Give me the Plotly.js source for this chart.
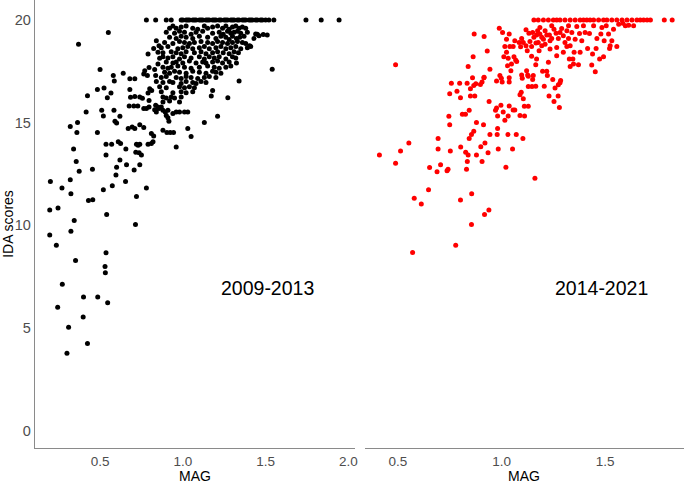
<!DOCTYPE html>
<html>
<head>
<meta charset="utf-8">
<script src="https://cdn.plot.ly/plotly-3.0.1.min.js"></script>
<style>
  html, body { margin: 0; padding: 0; background: #fff; }
  #plot { width: 686px; height: 484px; }
</style>
</head>
<body>
<div id="plot"></div>
<script>
// 2009-2013 panel (black)
var magEarly = [
  0.55,0.37,0.20,0.196,0.246,0.27,0.32,0.324,0.196,0.236,
  0.324,0.344,0.54,0.714,0.72,0.78,0.52,0.574,0.654,0.43,
  0.456,0.454,0.374,0.356,0.34,0.32,0.364,0.36,0.416,0.424,
  0.484,0.50,0.524,0.544,0.566,0.51,0.52,0.584,0.59,0.60,
  0.62,0.58,0.586,0.64,0.484,0.536,0.57,0.536,0.61,0.624,
  0.656,0.62,0.60,0.596,0.66,0.67,0.694,0.71,0.68,0.71,
  0.68,0.684,0.676,0.704,0.728,0.71,0.74,0.74,0.764,0.72,
  0.73,0.74,0.736,0.75,0.74,0.716,0.706,0.79,0.81,0.82,
  0.81,0.824,0.764,0.78,0.796,0.756,0.80,0.812,0.79,0.796,
  0.77,0.764,0.786,0.796,0.79,0.824,0.84,0.83,0.836,0.84,
  0.85,0.86,0.85,0.856,0.836,0.85,0.87,0.83,0.84,0.856,
  0.88,0.894,0.91,0.88,0.904,0.924,0.944,0.94,0.96,0.98,
  1.01,1.03,0.90,0.91,0.916,0.96,1.03,1.05,1.13,1.21,
  1.172,1.18,1.272,1.34,1.54,1.51,1.486,1.46,1.44,1.404,
  0.536,0.352,0.53,0.532,0.272,0.40,0.486,0.546,0.244,0.398,
  0.31,0.424,0.30
];
var idaEarly = [
  19.39,18.81,12.13,10.74,10.84,11.81,12.21,11.53,9.52,9.03,
  9.71,10.23,10.52,10.03,11.40,11.81,11.73,11.92,12.13,11.21,
  11.24,12.73,12.63,13.10,13.71,14.81,15.0,14.52,15.52,16.31,
  16.61,17.58,16.69,16.21,16.44,15.60,15.32,15.60,15.06,14.98,
  15.31,17.29,17.02,17.40,14.52,13.94,13.94,13.42,14.06,13.98,
  13.71,13.18,12.82,12.45,12.94,14.71,14.79,14.71,17.13,17.13,
  16.61,16.23,15.81,15.81,15.81,16.27,16.24,14.90,14.76,13.94,
  13.90,13.94,13.53,13.42,12.94,13.55,12.69,13.94,13.98,14.06,
  14.47,14.35,15.68,15.68,15.76,16.19,16.65,16.56,16.44,16.08,
  17.53,17.37,17.29,17.68,18.34,18.61,18.98,17.58,17.29,17.0,
  17.85,18.13,18.42,18.74,15.84,15.76,15.76,15.63,15.52,15.68,
  15.60,15.52,15.60,14.63,14.52,14.52,14.52,15.44,15.52,15.52,
  15.52,15.52,15.35,15.23,15.06,13.81,14.71,14.32,15.0,15.31,
  16.29,16.56,16.21,17.02,17.60,19.27,19.29,19.23,19.32,18.74,
  8.66,8.28,7.99,7.69,7.12,6.51,6.51,6.23,6.0,5.53,
  5.03,4.24,3.76
];

// dense cluster of the 2009-2013 panel
var magEarlyCluster = [
  0.92,0.94,0.96,0.99,1.02,1.06,1.09,1.13,1.15,1.18,1.21,1.24,1.26,1.28,1.30,1.32,1.34,1.36,1.38,
  0.90,0.95,0.98,1.01,1.05,1.08,1.12,1.18,1.22,1.244,1.27,1.29,1.31,1.33,1.35,1.39,1.45,
  0.92,0.96,0.99,1.02,1.06,1.10,1.15,1.20,1.23,1.26,1.28,1.30,1.324,1.344,1.37,1.43,
  0.89,0.94,0.98,1.01,1.04,1.07,1.11,1.15,1.18,1.21,1.24,1.27,1.30,1.33,1.36,1.38,
  0.87,0.91,0.97,1.00,1.03,1.06,1.10,1.13,1.16,1.20,1.23,1.26,1.29,1.32,1.35,1.39,1.41,
  0.88,0.93,0.96,0.99,1.02,1.07,1.11,1.14,1.18,1.21,1.244,1.28,1.31,1.336,
  0.88,0.91,0.94,0.98,1.01,1.05,1.10,1.13,1.16,1.19,1.22,1.26,1.30,1.32,
  0.90,0.94,0.96,1.00,1.04,1.08,1.12,1.14,1.18,1.21,1.24,1.28,1.324,
  0.88,0.91,0.93,0.97,1.01,1.05,1.10,1.15,1.19,1.22,1.26,1.29,
  0.89,0.92,0.95,0.98,1.02,1.06,1.10,1.14,1.18,1.20,1.23,
  0.87,0.90,0.96,0.99,1.02,1.05,1.09,1.13,1.16,1.20,
  0.88,0.92,0.94,0.99,1.02,1.06,1.08,1.11,1.14,
  0.86,0.90,0.98,1.01,1.04,1.07,
  0.87,0.94,0.99,1.02,1.06,
  0.88,0.90,0.93,0.95,0.99,
  0.88,0.92,0.98
];
var idaEarlyCluster = [
  19.6,19.7,19.6,19.65,19.7,19.6,19.55,19.7,19.6,19.65,19.7,19.6,19.7,19.55,19.65,19.7,19.6,19.65,19.6,
  19.4,19.35,19.45,19.4,19.3,19.4,19.45,19.35,19.4,19.3,19.45,19.35,19.4,19.45,19.35,19.4,19.3,
  19.15,19.1,19.2,19.15,19.1,19.2,19.15,19.1,19.2,19.15,19.05,19.2,19.1,19.15,19.2,19.1,
  18.9,18.85,18.95,18.9,18.85,18.9,18.95,18.9,18.85,18.95,18.9,18.85,18.9,18.95,18.9,18.85,
  18.65,18.7,18.6,18.65,18.7,18.6,18.65,18.7,18.6,18.65,18.7,18.6,18.65,18.7,18.6,18.65,18.7,
  18.4,18.45,18.4,18.35,18.45,18.4,18.45,18.35,18.4,18.45,18.4,18.35,18.45,18.4,
  18.2,18.15,18.2,18.1,18.2,18.15,18.2,18.1,18.2,18.15,18.2,18.1,18.2,18.15,
  17.95,17.9,17.95,17.9,18.0,17.9,17.95,17.9,17.95,18.0,17.9,17.95,17.9,
  17.7,17.65,17.7,17.75,17.7,17.65,17.7,17.75,17.7,17.65,17.7,17.75,
  17.45,17.4,17.5,17.45,17.4,17.5,17.45,17.4,17.5,17.45,17.4,
  17.2,17.25,17.2,17.15,17.25,17.2,17.15,17.2,17.25,17.2,
  16.95,17.0,16.95,16.9,17.0,16.95,16.9,17.0,16.95,
  16.75,16.7,16.75,16.7,16.75,16.7,
  16.5,16.45,16.5,16.45,16.5,
  16.25,16.2,16.25,16.2,16.25,
  16.0,16.05,16.0
];

// points on the ceiling score of 20
var magEarlyTop = [
  0.78,0.836,0.90,0.93,0.99,1.00,1.02,1.03,1.04,1.06,
  1.07,1.08,1.10,1.11,1.12,1.14,1.15,1.16,1.18,1.19,
  1.20,1.22,1.23,1.25,1.26,1.27,1.29,1.30,1.31,1.33,
  1.34,1.36,1.37,1.38,1.40,1.41,1.42,1.44,1.45,1.47,
  1.48,1.50,1.52,1.55,1.744,1.836,1.944
];
var idaEarlyTop = [
  20,20,20,20,20,20,20,20,20,20,
  20,20,20,20,20,20,20,20,20,20,
  20,20,20,20,20,20,20,20,20,20,
  20,20,20,20,20,20,20,20,20,20,
  20,20,20,20,20,20,20
];

// 2014-2021 panel (red)
var magLate = [
  0.411,0.489,0.489,0.513,0.553,0.579,0.613,0.648,0.653,0.689,
  0.706,0.737,0.742,0.694,0.694,0.746,0.75,0.75,0.753,0.758,
  0.785,0.798,0.802,0.802,0.803,0.811,0.826,0.827,0.831,0.835,
  0.839,0.839,0.834,0.844,0.844,0.85,0.85,0.855,0.856,0.855,
  0.86,0.863,0.866,0.868,0.866,0.871,0.876,0.879,0.879,0.898,
  0.906,0.915,0.916,0.90,0.906,0.913,0.916,0.918,0.92,0.931,
  0.935,0.939,0.94,0.944,0.944,0.971,0.976,0.979,0.981,0.981,
  0.984,0.976,0.989,0.992,0.999,1.003,0.997,1.005,1.008,1.011,
  1.016,1.016,1.021,1.024,1.024,1.032,1.029,1.031,1.032,1.037,
  1.037,1.037,1.037,1.04,1.056,1.045,1.048,1.053,1.056,1.064,
  1.064,1.06,1.068,1.071,1.073,1.085,1.089,1.089,1.092,1.095,
  1.097,1.10,1.103,1.105,1.11,1.111,1.118,1.121,1.124,1.126,
  1.129,1.129,1.129,1.132,1.137,1.145,1.147,1.15,1.153,1.165,
  1.161,1.165,1.166,1.169,1.174,1.177,1.181,1.185,1.194,1.198,
  1.21,1.206,1.21,1.218,1.221,1.226,1.229,1.231,1.234,1.242,
  1.247,1.253,1.258,1.263,1.266,1.273,1.274,1.279,1.282,1.285,
  1.29,1.298,1.306,1.315,1.323,1.327,1.331,1.339,1.344,1.347,
  1.35,1.355,1.363,1.371,1.376,1.379,1.387,1.395,1.403,1.415,
  1.424,1.435,1.439,1.444,1.452,1.456,1.46,1.473,1.479,1.484,
  1.492,1.495,1.505,1.516,1.521,1.524,1.532,1.540,1.556,1.565,
  1.585,1.597,1.613,1.637,0.779,0.571,
  1.15,1.156,1.194,1.218,1.242,1.253,1.274,1.282,1.315,1.323,
  1.331,1.185,1.202,1.145,1.118,1.105,1.097,1.234,1.298,1.266,1.169
];
var idaLate = [
  13.42,17.82,13.02,13.61,14.0,11.31,11.03,11.73,12.81,12.61,
  12.94,12.65,12.73,14.23,13.71,15.31,14.90,16.40,13.61,16.92,
  16.52,16.92,16.21,11.23,13.81,15.40,15.40,13.55,12.73,13.10,
  13.42,17.73,16.92,14.23,15.60,16.29,16.65,14.42,11.53,10.03,
  17.18,18.21,16.81,19.31,14.58,16.29,16.89,15.0,13.42,16.86,
  16.98,17.18,17.21,13.82,13.10,14.90,19.19,10.52,14.0,18.48,
  13.53,10.74,16.03,14.42,17.60,15.60,15.71,14.42,14.71,15.32,
  13.71,17.02,19.60,17.29,17.16,16.98,15.84,19.39,15.52,18.21,
  18.71,15.11,12.82,19.06,18.42,18.13,17.77,14.42,15.32,15.81,
  16.98,17.18,19.31,18.71,18.71,17.53,17.85,13.71,15.61,15.61,
  18.98,18.21,18.05,14.42,17.98,18.90,15.35,16.35,18.69,16.48,
  17.32,17.16,14.23,16.16,15.79,15.32,19.52,17.53,18.50,17.32,
  17.26,15.79,16.76,19.35,18.95,18.23,16.76,17.1,17.29,17.82,
  12.29,16.77,18.87,19.26,19.47,18.90,18.5,19.63,19.15,17.50,
  19.47,16.77,18.82,17.5,17.29,17.94,16.29,19.26,18.98,19.71,
  17.10,16.03,16.68,19.35,18.66,16.29,16.84,15.73,16.94,17.05,
  19.58,19.23,18.9,18.71,19.71,18.1,17.73,19.39,18.1,17.85,
  18.42,19.06,19.68,17.82,19.34,18.42,18.98,19.71,19.39,18.61,
  19.34,17.81,18.34,19.71,17.48,18.61,19.10,18.1,19.31,19.63,
  18.21,18.98,19.71,19.31,18.61,18.74,18.98,19.55,18.71,19.79,
  19.84,19.71,19.74,19.71,9.03,8.67,
  19.39,19.15,18.74,19.26,19.10,19.55,19.10,19.39,19.47,19.10,
  18.74,19.31,19.06,18.71,18.74,18.90,19.10,18.58,18.42,18.26,18.10
];
var magLateTop = [
  1.156,1.177,1.202,1.226,1.25,1.266,1.282,1.306,1.331,1.355,
  1.379,1.395,1.411,1.427,1.444,1.468,1.492,1.508,1.532,1.556,
  1.581,1.605,1.629,1.653,1.669,1.685,1.702,1.718,1.785,1.823
];
var idaLateTop = [
  20,20,20,20,20,20,20,20,20,20,
  20,20,20,20,20,20,20,20,20,20,
  20,20,20,20,20,20,20,20,20,20
];

var periods = ["2009-2013", "2014-2021"];
var yTicks = [0, 5, 10, 15, 20];

document.addEventListener("DOMContentLoaded", function() {
  var plotDiv = document.getElementById("plot");
  var axisGrey = "#8a8a8a";
  var tickGrey = "#4d4d4d";

  var early = {
    x: magEarly.concat(magEarlyCluster, magEarlyTop),
    y: idaEarly.concat(idaEarlyCluster, idaEarlyTop),
    xaxis: "x", yaxis: "y",
    type: "scatter", mode: "markers",
    marker: { color: "#000000", size: 5 },
    hoverinfo: "skip"
  };
  var late = {
    x: magLate.concat(magLateTop),
    y: idaLate.concat(idaLateTop),
    xaxis: "x2", yaxis: "y",
    type: "scatter", mode: "markers",
    marker: { color: "#ff0000", size: 5 },
    hoverinfo: "skip"
  };

  function xAxis(domain, range, vals) {
    return {
      domain: domain, range: range, anchor: "y",
      tickvals: vals,
      ticktext: vals.map(function(v) { return v.toFixed(1); }),
      showline: true, linecolor: axisGrey, linewidth: 1.3,
      showgrid: false, zeroline: false,
      ticks: "outside", ticklen: 0, tickcolor: "rgba(0,0,0,0)",
      tickfont: { size: 13.5, color: tickGrey },
      automargin: false
    };
  }

  // x titles as annotations so they sit just under the tick labels
  function magTitle(ref) {
    return { text: "MAG", xref: ref + " domain", yref: "paper", x: 0.5, y: -0.0636,
      yanchor: "middle", showarrow: false, font: { size: 14, color: "#000" } };
  }

  var layout = {
    width: 686, height: 484,
    margin: { l: 35, r: 2, t: 0, b: 36 },
    paper_bgcolor: "#ffffff", plot_bgcolor: "#ffffff",
    showlegend: false,
    font: { family: "Liberation Sans, Arial, sans-serif", color: "#000" },
    xaxis: xAxis([0, 0.493], [0.107, 2.04], [0.5, 1, 1.5, 2]),
    xaxis2: xAxis([0.508, 1], [0.34, 1.88], [0.5, 1, 1.5]),
    yaxis: {
      range: [-0.85, 20.97], anchor: "x",
      tickvals: yTicks,
      showline: true, linecolor: axisGrey, linewidth: 1.3,
      showgrid: false, zeroline: false,
      ticks: "outside", ticklen: 0, tickcolor: "rgba(0,0,0,0)",
      tickfont: { size: 14.5, color: tickGrey },
      title: { text: "IDA scores", font: { size: 14, color: "#000" }, standoff: 9 },
      automargin: false
    },
    annotations: [
      { text: periods[0], xref: "x", yref: "y", x: 1.51, y: 6.93,
        showarrow: false, font: { size: 19.5, color: "#000" } },
      { text: periods[1], xref: "x2", yref: "y", x: 1.48, y: 6.93,
        showarrow: false, font: { size: 19.5, color: "#000" } },
      magTitle("x"),
      magTitle("x2")
    ]
  };

  Plotly.newPlot(plotDiv, [early, late], layout, { staticPlot: true });
});
</script>
</body>
</html>
